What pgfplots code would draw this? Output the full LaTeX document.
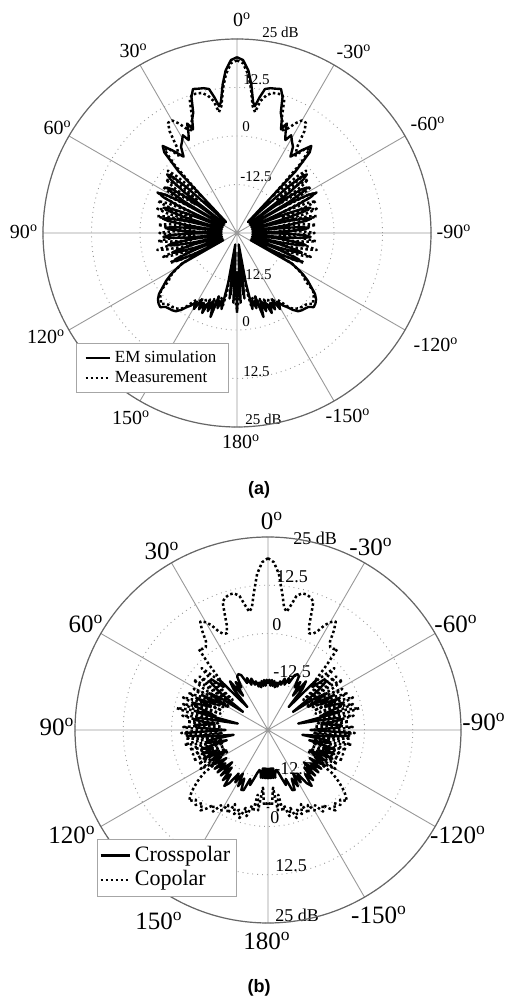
\documentclass[border=0pt]{standalone}
\usepackage{fontspec}
\setmainfont{Liberation Serif}
\newfontfamily\arialfont{Liberation Sans}
\usepackage{pgfplots}
\pgfplotsset{compat=1.18}
\usepackage{pgfplotstable}
\usepgfplotslibrary{polar}

% angle a (deg, 0 = top, positive = left), d = level in dB ; left half, mirrored for right half
\pgfplotstableread[row sep=\\]{
a d\\
0 20.3\\ 2 19.6\\ 4 17.0\\ 5.5 13.5\\ 7 9.0\\ 8 8.0\\ 9.5 10.5\\ 11 12.8\\ 13 13.3\\ 15 13.5\\ 17 13.8\\ 18.5 12.0\\ 20 8.0\\ 21.5 6.5\\ 23 4.0\\ 24.5 6.0\\ 26 3.5\\ 27.5 2.0\\ 29 3.8\\ 31 2.5\\ 33 1.5\\ 35 -1.0\\ 38 2.0\\ 40.5 4.5\\ 42 3.0\\ 43.5 -3\\ 45 -21\\
47.8 -7.5\\ 48.9 -3\\ 50 -1.5\\ 51.1 -3\\ 52.2 -7.5\\ 53.5 -21\\
54.8 -9.5\\ 55.9 -5\\ 57 -3.5\\ 58.1 -5\\ 59.2 -9.5\\ 60 -21\\
60.8 -8.5\\ 61.9 -4\\ 63 -2.5\\ 64.1 -4\\ 65.2 -8.5\\ 67 -21\\
68.8 -11\\ 69.9 -6.5\\ 71 -5\\ 72.1 -6.5\\ 73.2 -11\\ 75 -21\\
76.8 -11.5\\ 77.9 -7\\ 79 -5.5\\ 80.1 -7\\ 81.2 -11.5\\ 82.5 -21\\
83.8 -12.5\\ 84.9 -8\\ 86 -6.5\\ 87.1 -8\\ 88.2 -12.5\\ 89.5 -21\\
90.8 -12\\ 91.9 -7.5\\ 93 -6\\ 94.1 -7.5\\ 95.2 -12\\ 96.5 -21\\
97.8 -13\\ 98.9 -8.5\\ 100 -7\\ 101.1 -8.5\\ 102.2 -13\\ 103.5 -21\\
104.8 -13.5\\ 105.9 -9\\ 107 -7.5\\ 108.1 -9\\ 109.2 -13.5\\ 110.5 -21\\
111.8 -13\\ 112.9 -8.5\\ 114 -7\\ 115.1 -8.5\\ 116.2 -13\\ 117.5 -21\\
119 -9\\ 120.5 -7\\ 122 -5\\ 124 -3\\ 126 -1.4\\ 128 0.5\\ 130 1.6\\ 132 2.2\\ 134 2.5\\ 136 1.5\\ 138 1.2\\ 140 1.0\\ 142 0.6\\ 144 -0.5\\ 146 -2.0\\ 147.5 -2.8\\ 149 -4.0\\ 150.5 -2.5\\ 152 -5.4\\ 153.5 -3.0\\ 155 -5.0\\ 156.5 -2.5\\ 158 -6.0\\ 159.5 -3.5\\ 161 -6.5\\ 162.5 -2.3\\ 164 -7.9\\ 165.5 -5\\ 167 -7\\ 168.5 -5\\ 170 -12\\ 171.5 -22\\ 173.5 -8\\ 175.5 -20\\ 177 -7\\ 178.5 -15\\ 180 -4.5\\
}\simA

\pgfplotstableread[row sep=\\]{
a d\\
0 19.5\\ 2 18.8\\ 4 16.0\\ 5.5 12.5\\ 7 8.0\\ 8.5 6.5\\ 10 9.5\\ 12 11.2\\ 14 12.2\\ 16 12.4\\ 18 12.5\\ 19.5 11.5\\ 21 7.5\\ 22.5 5.5\\ 24 4.0\\ 26 5.0\\ 28 7.0\\ 30 8.5\\ 32 8.5\\ 33.5 6.5\\ 35 2.0\\ 37 0.0\\ 39 3.0\\ 41 3.5\\ 42.5 -1\\ 44 -12\\
46.8 -3.5\\ 48 -1\\ 49.2 -3.5\\ 50.5 -12\\
51.8 -4.5\\ 53 -2\\ 54.2 -4.5\\ 55.5 -12\\
56.8 -5\\ 58 -2.5\\ 59.2 -5\\ 60.5 -12\\
61.8 -4.5\\ 63 -2\\ 64.2 -4.5\\ 65.5 -12\\
66.8 -5.5\\ 68 -3\\ 69.2 -5.5\\ 70.5 -13\\
71.8 -6\\ 73 -3.5\\ 74.2 -6\\ 75.5 -13\\
76.8 -6.5\\ 78 -4\\ 79.2 -6.5\\ 81 -14\\
82.8 -7\\ 84 -4.5\\ 85.2 -7\\ 87 -14\\
88.8 -7.5\\ 90 -5\\ 91.2 -7.5\\ 93 -14\\
94.8 -7\\ 96 -4.5\\ 97.2 -7\\ 99 -13\\
100.8 -6.5\\ 102 -4\\ 103.2 -6.5\\ 105 -13\\
106.8 -7.5\\ 108 -5\\ 109.2 -7.5\\ 111 -14\\
112.8 -8.5\\ 114 -6\\ 115.2 -8.5\\ 117 -16\\
119 -9\\ 121 -6.5\\ 123 -4.5\\ 125 -3.5\\ 127 -0.5\\ 129 0.5\\ 131 1.0\\ 133 1.8\\ 135 0.8\\ 137 0.5\\ 139 0.3\\ 141 0\\ 143 -0.5\\ 145 -1.5\\ 147 -3.5\\ 149 -5\\ 150.5 -3.5\\ 152 -6\\ 153.5 -4\\ 155 -6\\ 156.5 -3.5\\ 158 -6.5\\ 159.5 -4.5\\ 161 -7\\ 162.5 -3.5\\ 164 -8\\ 165.5 -6\\ 167 -8\\ 169 -6\\ 170.5 -10\\ 172 -18\\ 174 -9\\ 176 -18\\ 178 -8\\ 180 -5.5\\
}\measA

\pgfplotstableread[row sep=\\]{
a d\\
0 -13.0\\ 1.5 -12.0\\ 3 -13.5\\ 4.5 -12.0\\ 6 -13.5\\ 7.5 -12.2\\ 9 -13.8\\ 10.5 -12.5\\ 12 -13.5\\ 14 -12\\ 16 -12.8\\ 18 -11\\ 20 -12.5\\ 22 -10.5\\ 24 -11.7\\ 26 -9.2\\ 28 -8.6\\ 30 -9.0\\ 32 -12\\ 34 -10\\ 36 -14\\ 38 -9\\ 40 -11\\ 42 -17\\ 44 -7\\ 46 -9\\ 48 -5.5\\ 50 -5.2\\ 52 -9\\ 54 -17\\ 56 -10\\ 58 -7\\ 60 -13\\ 62 -6\\ 64 -10\\ 66 -5\\ 68 -9\\ 70 -4.5\\ 72 -5.2\\ 74 -10\\ 76 -6\\ 78 -17\\ 80 -7\\ 82 -5.5\\ 84 -11\\ 86 -6\\ 88 -6.5\\ 90 -14\\ 92 -4\\ 94 -3.9\\ 96 -9\\ 98 -16\\ 100 -9\\ 102 -8.8\\ 104 -14\\ 106 -7\\ 108 -10\\ 110 -6.7\\ 112 -11\\ 114 -6.7\\ 116 -13\\ 118 -8\\ 120 -11\\ 122 -7.5\\ 124 -12\\ 126 -7.9\\ 128 -11\\ 130 -7.9\\ 132 -12.5\\ 134 -8\\ 136 -11.5\\ 138 -7.5\\ 140 -10\\ 142 -6.6\\ 144 -8\\ 146 -11.4\\ 148 -9\\ 150 -12\\ 152 -8.5\\ 154 -11\\ 156 -8.0\\ 158 -8.2\\ 160 -11.5\\ 162 -10\\ 164 -11.9\\ 166 -13.5\\ 168 -14.4\\ 170 -14\\ 171.5 -12.5\\ 172.5 -15\\ 173.5 -12.5\\ 174.5 -15\\ 175.5 -12.5\\ 176.5 -15\\ 177.5 -12.5\\ 178.5 -15\\ 179.5 -12.5\\ 180 -13.5\\
}\crossB

\pgfplotstableread[row sep=\\]{
a d\\
0 19.5\\ 2 18.5\\ 4 15.5\\ 6 10.5\\ 7.5 7\\ 9 6\\ 10.5 8\\ 12 10.5\\ 14 11.5\\ 16 11.5\\ 18 11\\ 19.5 10.2\\ 20.5 7\\ 21.5 4\\ 23 2.2\\ 25 2.5\\ 26.5 3.5\\ 28.5 6\\ 30.5 7.5\\ 32 8.1\\ 33.5 6\\ 35 3\\ 37 1.8\\ 39 2.0\\ 40.5 2.6\\ 42 -2\\ 44 -8\\
45.8 -4.5\\ 47 -1.5\\ 48.2 -4.5\\ 49.5 -13\\
50.8 -5.5\\ 52 -2.5\\ 53.2 -5.5\\ 54 -12\\
54.8 -4.7\\ 56 -1.7\\ 57.2 -4.7\\ 58.5 -13\\
59.8 -6\\ 61 -3\\ 62.2 -6\\ 63 -12\\
63.8 -5.5\\ 65 -2.5\\ 66.2 -5.5\\ 67 -12\\
67.8 -4.4\\ 69 -1.4\\ 70.2 -4.4\\ 71 -12\\
71.8 -5\\ 73 -2\\ 74.2 -5\\ 75 -11\\
75.5 -3.7\\ 76.5 -0.7\\ 77.5 -3.7\\ 78.5 -12\\
79.5 -5.5\\ 80.5 -2.5\\ 81.5 -5.5\\ 82.5 -12\\
83 -6.9\\ 84 -3.9\\ 85 -6.9\\ 86 -13\\
87 -6\\ 88 -3\\ 89 -6\\ 90 -13\\
91 -5.5\\ 92 -2.5\\ 93 -5.5\\ 94 -13\\
95 -6.5\\ 96 -3.5\\ 97 -6.5\\ 98 -13\\
99 -6\\ 100 -3\\ 101 -6\\ 102 -13\\
103 -7\\ 104 -4\\ 105 -7\\ 106 -13\\
107 -7.5\\ 108 -4.5\\ 109 -7.5\\ 110 -13\\
111 -7\\ 112 -4\\ 113 -7\\ 114 -13\\
115 -8\\ 116 -5\\ 117 -8\\ 118 -13\\
119 -7.8\\ 120 -4.8\\ 121 -7.8\\ 122 -10\\
124 -4.8\\ 126 -2.5\\ 127.5 -1\\ 129 0.5\\ 130.5 1.5\\ 132 2.5\\ 134 1\\ 136 2\\ 138 0.5\\ 140 2.2\\ 142 0.8\\ 144 -1\\ 146 0.5\\ 148 -2\\ 150 -0.9\\ 152 -3\\ 154 -1\\ 156 -4\\ 158 -1.5\\ 160 -3\\ 162 -1.0\\ 164 -4\\ 166 -2\\ 168 -5\\ 169.6 -3.5\\ 171 -8\\ 173 -4\\ 175 -10\\ 177 -5.5\\ 179 -6\\ 180 -4.8\\
}\coB

\pgfplotsset{
  mypolar/.style={
    scale only axis,
    xmin=0, xmax=360, ymin=0, ymax=50,
    xtick={0,30,...,330},
    ytick={12.5,25,37.5,50},
    xticklabels={}, yticklabels={},
    major tick length=0pt,
    grid=major,
    major x grid style={gray!80, line width=0.45pt},
    major y grid style={gray!80, line width=0.45pt, dotted},
    axis line style={black!60, line width=0.6pt},
    y axis line style={draw=none},
    clip=false,
    legend cell align=left,
  },
  solidline/.style={black, line width=1.2pt, line join=round},
  dotline/.style={black, line width=1.25pt, line join=round, dash pattern=on 1.25pt off 1.25pt},
}

\newcommand{\dg}[1]{#1\textsuperscript{o}}

\begin{document}
\begin{tikzpicture}
\useasboundingbox (0,0) rectangle (256pt,499.5pt);

% ---------- (a) labels ----------
\begin{scope}[every node/.style={font=\fontsize{10}{12}\selectfont, inner sep=0pt}]
\node at (121pt,489.5pt) {\dg{0}};
\node at (66.75pt,474pt) {\dg{30}};
\node at (177pt,473.5pt) {\dg{-30}};
\node at (28.75pt,435.5pt) {\dg{60}};
\node at (214pt,437.5pt) {\dg{-60}};
\node at (12pt,383.5pt) {\dg{90}};
\node at (227pt,383.5pt) {\dg{-90}};
\node at (23pt,331pt) {\dg{120}};
\node at (218pt,327pt) {\dg{-120}};
\node at (65.5pt,290.5pt) {\dg{150}};
\node at (174pt,291.5pt) {\dg{-150}};
\node at (120.5pt,278.5pt) {\dg{180}};
\end{scope}
\begin{scope}[every node/.style={font=\fontsize{7.5}{9}\selectfont, inner sep=0pt, anchor=west}]
\node at (131pt,483.5pt) {25 dB};
\node at (121.5pt,459.5pt) {12.5};
\node at (121pt,436pt) {0};
\node at (120pt,411pt) {-12.5};
\node at (120pt,362pt) {-12.5};
\node at (121pt,338.5pt) {0};
\node at (121.5pt,313.5pt) {12.5};
\node at (122.5pt,290pt) {25 dB};
\end{scope}

% ---------- (b) labels ----------
\begin{scope}[every node/.style={font=\fontsize{12.5}{14}\selectfont, inner sep=0pt}]
\node at (136pt,239pt) {\dg{0}};
\node at (81pt,224pt) {\dg{30}};
\node at (185.5pt,226pt) {\dg{-30}};
\node at (43pt,187.5pt) {\dg{60}};
\node at (228pt,187.5pt) {\dg{-60}};
\node at (28.5pt,136pt) {\dg{90}};
\node at (242pt,138.5pt) {\dg{-90}};
\node at (36pt,82pt) {\dg{120}};
\node at (229pt,82pt) {\dg{-120}};
\node at (79.5pt,39pt) {\dg{150}};
\node at (189.5pt,42pt) {\dg{-150}};
\node at (133.5pt,29pt) {\dg{180}};
\end{scope}
\begin{scope}[every node/.style={font=\fontsize{9}{11}\selectfont, inner sep=0pt, anchor=west}]
\node at (146.5pt,230.5pt) {25 dB};
\node at (138pt,211pt) {12.5};
\node at (136pt,187pt) {0};
\node at (136.5pt,163.5pt) {-12.5};
\node at (137pt,115pt) {-12.5};
\node at (135pt,90.5pt) {0};
\node at (137.5pt,66.5pt) {12.5};
\node at (137.5pt,42pt) {25 dB};
\end{scope}

\node[font=\arialfont\bfseries\fontsize{9}{11}\selectfont] at (129.5pt,254.5pt) {(a)};
\node[font=\arialfont\bfseries\fontsize{9}{11}\selectfont] at (129.5pt,5.5pt) {(b)};

% ---------- (a) axis ----------
\begin{polaraxis}[mypolar,
  width=194pt, height=194pt,
  at={(118.5pt,383pt)}, anchor=origin,
  legend style={at={(axis description cs:0.085,0.2165)}, anchor=north west,
    font=\fontsize{8.5}{10}\selectfont, draw=gray!70, fill=white,
    inner xsep=4pt, inner ysep=1.5pt, row sep=-1pt},
  legend image code/.code={\draw[#1] (0pt,0pt) -- (12pt,0pt);},
]
\addplot[solidline] table[x expr=\thisrow{a}+90, y expr=\thisrow{d}+25] {\simA};
\addlegendentry{EM simulation}
\addplot[dotline] table[x expr=\thisrow{a}+90, y expr=\thisrow{d}+25] {\measA};
\addlegendentry{Measurement}
\addplot[solidline, forget plot] table[x expr=90-\thisrow{a}, y expr=\thisrow{d}+25] {\simA};
\addplot[dotline, forget plot] table[x expr=90-\thisrow{a}, y expr=\thisrow{d}+25] {\measA};
\end{polaraxis}

% ---------- (b) axis ----------
\begin{polaraxis}[mypolar,
  width=193pt, height=193pt,
  at={(134pt,134.5pt)}, anchor=origin,
  legend style={at={(axis description cs:0.057,0.2176)}, anchor=north west,
    font=\fontsize{11}{13}\selectfont, draw=gray!70, fill=white,
    inner xsep=1pt, inner ysep=1.5pt, row sep=-1pt},
  legend image code/.code={\draw[#1] (0pt,0pt) -- (14.5pt,0pt);},
]
\addplot[solidline] table[x expr=\thisrow{a}+90, y expr=\thisrow{d}+25] {\crossB};
\addlegendentry{Crosspolar}
\addplot[dotline] table[x expr=\thisrow{a}+90, y expr=\thisrow{d}+25] {\coB};
\addlegendentry{Copolar}
\addplot[solidline, forget plot] table[x expr=90-\thisrow{a}, y expr=\thisrow{d}+25] {\crossB};
\addplot[dotline, forget plot] table[x expr=90-\thisrow{a}, y expr=\thisrow{d}+25] {\coB};
\end{polaraxis}
\end{tikzpicture}
\end{document}
